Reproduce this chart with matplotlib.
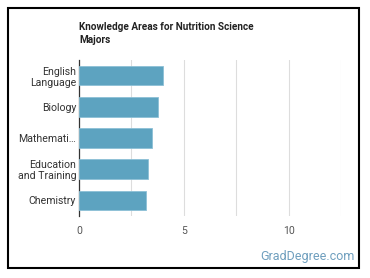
import matplotlib
matplotlib.use("Agg")
import matplotlib.pyplot as plt
from matplotlib.patches import Rectangle

categories = ["English\nLanguage", "Biology", "Mathemati…", "Education\nand Training", "Chemistry"]
values = [4.0, 3.76, 3.48, 3.3, 3.2]
xticks = [0, 5, 10]
title = "Knowledge Areas for Nutrition Science\nMajors"

plt.rcParams['font.family'] = ['Roboto', 'DejaVu Sans']

W, H = 370, 278
fig = plt.figure(figsize=(W/100, H/100), dpi=100)
fig.patch.set_facecolor('white')
fig.add_artist(Rectangle((8/W, 1 - 268/H), (359-8)/W, (268-8)/H, transform=fig.transFigure,
                         fill=False, edgecolor='black', linewidth=1.5))

ax = fig.add_axes([79/W, 1 - 216/H, (341-79)/W, (216-60)/H])
y = list(range(len(categories)))
ax.barh(y, values, height=0.63, color='#5da3c0', edgecolor='#8cc0d6', linewidth=0.6, zorder=3)
ax.set_ylim(len(categories) - 0.5, -0.5)
ax.set_xlim(0, 12.5)
ax.set_yticks(y)
ax.set_yticklabels(categories, fontsize=7.6, color='#333333', linespacing=1.15)
ax.set_xticks(xticks)
ax.set_xticklabels([str(t) for t in xticks], fontsize=7.6, color='#555555')
ax.set_xticks([2.5, 7.5, 12.5], minor=True)
ax.grid(axis='x', which='both', color='#dddddd', linewidth=0.8, zorder=0)
for s in ['top', 'right', 'bottom']:
    ax.spines[s].set_visible(False)
ax.spines['left'].set_color('#333333')
ax.spines['left'].set_linewidth(0.9)
ax.tick_params(axis='both', which='both', length=0, pad=2)
ax.tick_params(axis='x', pad=7)

fig.text(79/W, 1 - 22/H, title, fontsize=7.2, fontweight='bold', color='#222222',
         va='top', ha='left', linespacing=1.35)
fig.text(355/W, 1 - 260/H, "GradDegree.com", fontsize=9, color='#6f9fbe', ha='right', va='baseline')

fig.savefig("out.png", dpi=100)
